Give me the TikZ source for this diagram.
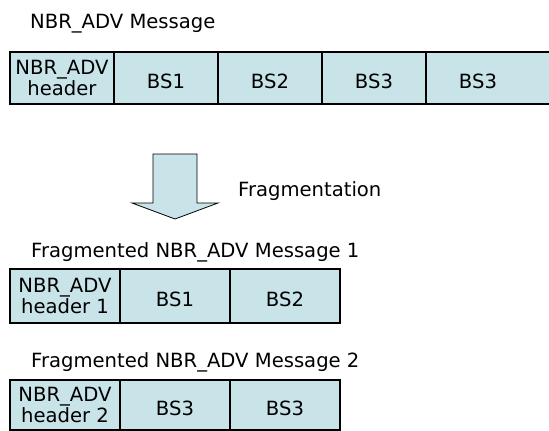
\documentclass[tikz,border=0pt]{standalone}
\usepackage{fontspec}
\setmainfont{DejaVu Sans}
\usetikzlibrary{positioning}
\definecolor{celeste}{HTML}{C8E4E8}
\tikzset{
  campo/.style={rectangle, draw=black, line width=2pt, fill=celeste, outer sep=0pt, inner sep=0pt,
                minimum width=104pt, minimum height=52pt, align=center, font=\fontsize{19.6}{21}\selectfont},
  campobs/.style={campo, text height=21pt, text depth=0pt},
  titulo/.style={anchor=base west, inner sep=0pt, font=\fontsize{19.6}{22}\selectfont},
  flecha/.style={draw=black, line width=0.8pt, fill=celeste}
}
\begin{document}
\begin{tikzpicture}[x=1pt, y=-1pt]
  \useasboundingbox (0,0) rectangle (549,431);
  % original message
  \node (tmsg) [titulo] at (30,28) {NBR\_ADV Message};
  \node (h0) [campo, anchor=north west] at (10,52) {NBR\_ADV\\header};
  \node (c01) [campobs, right=0pt of h0] {BS1};
  \node (c02) [campobs, right=0pt of c01] {BS2};
  \node (c03) [campobs, right=0pt of c02] {BS3};
  \node (c04) [campobs, right=0pt of c03, minimum width=128pt] {\hspace*{-24pt}BS3};
  % fragmentation
  \draw [flecha, shift={(175,154)}] (-22,0) -- (22,0) -- (22,49) -- (43,49) -- (0,65) -- (-43,49) -- (-22,49) -- cycle;
  \node (tfrag) [titulo] at (238,196) {Fragmentation};
  % fragment 1
  \node (tf1) [titulo] at (31,257) {Fragmented NBR\_ADV Message 1};
  \node (h1) [campo, anchor=north west, minimum width=110pt, minimum height=54pt] at (10,269) {NBR\_ADV\\header 1};
  \node (c11) [campobs, right=0pt of h1, minimum width=110pt, minimum height=54pt] {BS1};
  \node (c12) [campobs, right=0pt of c11, minimum width=110pt, minimum height=54pt] {BS2};
  % fragment 2
  \node (tf2) [titulo] at (31,367) {Fragmented NBR\_ADV Message 2};
  \node (h2) [campo, anchor=north west, minimum width=110pt, minimum height=50pt] at (10,380) {NBR\_ADV\\header 2};
  \node (c21) [campobs, right=0pt of h2, minimum width=110pt, minimum height=50pt] {BS3};
  \node (c22) [campobs, right=0pt of c21, minimum width=110pt, minimum height=50pt] {BS3};
\end{tikzpicture}
\end{document}
